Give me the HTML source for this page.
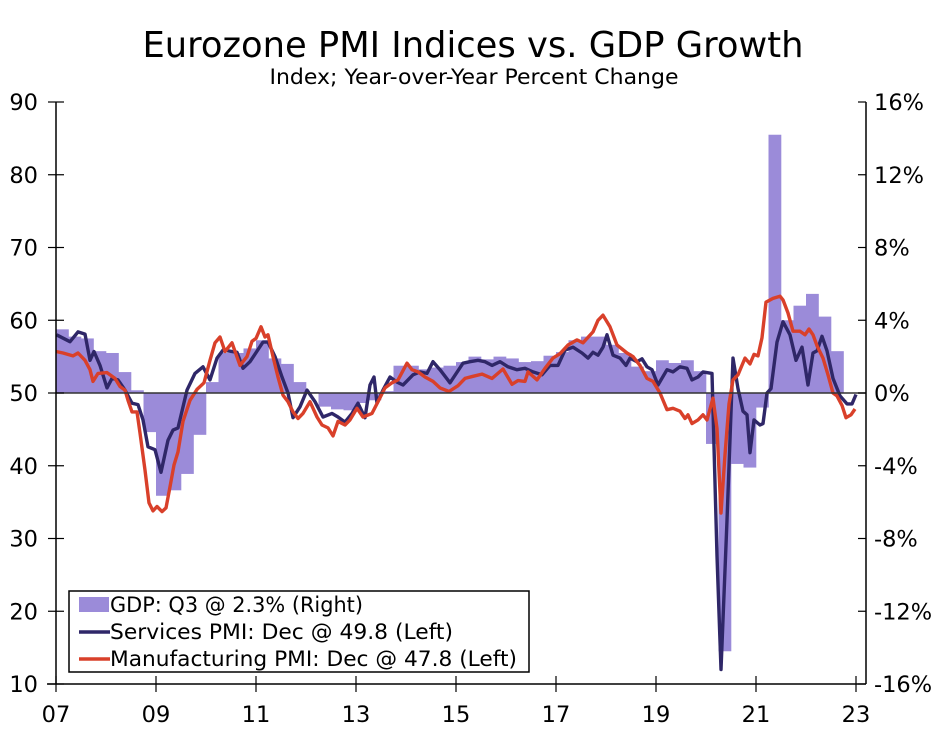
<!DOCTYPE html>
<html><head><meta charset="utf-8"><style>
body{margin:0;background:#fff;}
svg text{font-family:"DejaVu Sans","Liberation Sans",sans-serif;fill:#000;}
</style></head><body>
<svg id="chart" width="947" height="726" viewBox="0 0 947 726" xmlns="http://www.w3.org/2000/svg">
<text x="473" y="57" font-size="35.5" text-anchor="middle" textLength="661" lengthAdjust="spacingAndGlyphs">Eurozone PMI Indices vs. GDP Growth</text>
<text x="474" y="84" font-size="21" text-anchor="middle" textLength="409" lengthAdjust="spacingAndGlyphs">Index; Year-over-Year Percent Change</text>
<g id="bars"></g>
<g id="lines"></g>
<g id="axes"></g>
<g>
<rect x="69" y="591" width="460" height="81" fill="#fff" stroke="#000" stroke-width="1.5"/>
<rect x="79" y="597" width="30" height="15" fill="#9b8bd9"/>
<text x="110" y="612" font-size="21.5" textLength="253" lengthAdjust="spacingAndGlyphs">GDP: Q3 @ 2.3% (Right)</text>
<line x1="79" y1="632" x2="110" y2="632" stroke="#2f2768" stroke-width="3.5"/>
<text x="110" y="639" font-size="21.5" textLength="343" lengthAdjust="spacingAndGlyphs">Services PMI: Dec @ 49.8 (Left)</text>
<line x1="79" y1="659" x2="110" y2="659" stroke="#d9402a" stroke-width="3.5"/>
<text x="110" y="666" font-size="21.5" textLength="407" lengthAdjust="spacingAndGlyphs">Manufacturing PMI: Dec @ 47.8 (Left)</text>
</g>
</svg>
<script>
const gdpQuarters=["07Q1","07Q2","07Q3","07Q4","08Q1","08Q2","08Q3","08Q4","09Q1","09Q2","09Q3","09Q4","10Q1","10Q2","10Q3","10Q4","11Q1","11Q2","11Q3","11Q4","12Q1","12Q2","12Q3","12Q4","13Q1","13Q2","13Q3","13Q4","14Q1","14Q2","14Q3","14Q4","15Q1","15Q2","15Q3","15Q4","16Q1","16Q2","16Q3","16Q4","17Q1","17Q2","17Q3","17Q4","18Q1","18Q2","18Q3","18Q4","19Q1","19Q2","19Q3","19Q4","20Q1","20Q2","20Q3","20Q4","21Q1","21Q2","21Q3","21Q4","22Q1","22Q2","22Q3"];
const gdpValues=[3.5,3.1,3.0,2.3,2.2,1.15,0.15,-2.15,-5.65,-5.35,-4.45,-2.3,0.6,2.2,2.2,2.45,2.9,1.9,1.6,0.6,0.05,-0.75,-0.9,-0.95,-0.55,-0.4,0.1,1.5,1.5,1.3,1.4,1.5,1.7,2.0,1.85,2.0,1.9,1.7,1.75,2.05,2.25,2.9,3.1,3.1,2.65,2.2,1.45,1.2,1.8,1.65,1.8,1.2,-2.8,-14.2,-3.9,-4.1,-0.8,14.2,4.0,4.8,5.45,4.2,2.3];
const svcDates=[2007.01,2007.28,2007.44,2007.58,2007.68,2007.76,2007.88,2008.02,2008.12,2008.24,2008.38,2008.52,2008.64,2008.74,2008.84,2008.98,2009.10,2009.24,2009.34,2009.44,2009.62,2009.78,2009.94,2010.08,2010.22,2010.34,2010.62,2010.74,2010.88,2011.14,2011.24,2011.38,2011.52,2011.64,2011.74,2011.88,2012.02,2012.18,2012.34,2012.52,2012.64,2012.78,2012.92,2013.04,2013.18,2013.28,2013.36,2013.42,2013.54,2013.68,2013.82,2013.94,2014.14,2014.28,2014.42,2014.54,2014.68,2014.88,2015.14,2015.28,2015.44,2015.58,2015.72,2015.88,2016.04,2016.22,2016.38,2016.54,2016.72,2016.88,2017.04,2017.18,2017.34,2017.52,2017.64,2017.74,2017.84,2017.94,2018.02,2018.14,2018.28,2018.40,2018.48,2018.62,2018.72,2018.82,2018.92,2019.04,2019.22,2019.34,2019.48,2019.62,2019.72,2019.84,2019.94,2020.12,2020.22,2020.30,2020.42,2020.54,2020.64,2020.74,2020.82,2020.88,2020.96,2021.08,2021.14,2021.22,2021.30,2021.42,2021.54,2021.68,2021.80,2021.92,2022.04,2022.14,2022.22,2022.32,2022.42,2022.54,2022.68,2022.82,2022.92,2023.00];
const svcValues=[58.0,57.05,58.4,58.1,54.5,55.7,53.8,50.7,52.0,51.8,50.4,48.6,48.4,46.3,42.6,42.2,39.1,43.5,44.9,45.2,50.4,52.7,53.6,51.8,54.8,55.9,55.6,53.4,54.3,57.0,57.0,55.0,52.2,50.0,46.6,48.1,50.4,48.8,46.7,47.2,46.7,46.0,47.2,48.6,46.6,51.1,52.2,48.6,50.4,52.2,51.5,51.1,52.5,52.9,52.7,54.3,53.2,51.4,54.1,54.3,54.5,54.3,53.8,54.3,53.6,53.2,53.4,52.9,52.5,53.8,53.8,55.9,56.3,55.5,54.8,55.6,55.2,56.3,58.0,55.2,54.8,53.8,54.8,54.3,54.7,53.6,53.2,51.1,53.2,52.9,53.6,53.4,51.8,52.2,52.9,52.7,27.6,12.0,32.5,54.8,50.6,47.5,47.0,41.8,46.3,45.6,45.8,50.0,50.6,57.0,59.8,58.0,54.5,56.3,51.1,55.5,55.8,57.8,55.8,52.0,49.6,48.5,48.5,49.8];
const mfgDates=[2007.00,2007.14,2007.34,2007.44,2007.58,2007.68,2007.74,2007.84,2008.02,2008.18,2008.28,2008.38,2008.44,2008.52,2008.62,2008.68,2008.78,2008.86,2008.94,2009.02,2009.12,2009.20,2009.28,2009.36,2009.44,2009.54,2009.68,2009.82,2009.96,2010.08,2010.18,2010.28,2010.38,2010.52,2010.68,2010.82,2010.92,2011.00,2011.10,2011.18,2011.24,2011.34,2011.44,2011.54,2011.64,2011.74,2011.84,2011.94,2012.08,2012.22,2012.32,2012.44,2012.54,2012.64,2012.78,2012.88,2013.02,2013.14,2013.32,2013.44,2013.58,2013.72,2013.84,2014.02,2014.12,2014.24,2014.38,2014.54,2014.68,2014.86,2015.04,2015.18,2015.34,2015.52,2015.72,2015.94,2016.12,2016.24,2016.38,2016.44,2016.62,2016.78,2016.94,2017.08,2017.24,2017.42,2017.54,2017.74,2017.84,2017.94,2018.08,2018.22,2018.42,2018.54,2018.68,2018.82,2018.94,2019.08,2019.22,2019.34,2019.48,2019.58,2019.64,2019.72,2019.84,2019.94,2020.02,2020.14,2020.22,2020.30,2020.38,2020.46,2020.54,2020.64,2020.78,2020.88,2020.96,2021.04,2021.12,2021.20,2021.34,2021.48,2021.54,2021.64,2021.74,2021.88,2021.98,2022.06,2022.14,2022.22,2022.34,2022.44,2022.54,2022.62,2022.72,2022.80,2022.90,2022.98];
const mfgValues=[55.7,55.5,55.1,55.5,54.5,53.2,51.6,52.7,52.8,52.0,50.9,50.4,49.0,47.4,47.4,44.5,39.4,34.9,33.8,34.4,33.7,34.2,37.1,40.1,41.9,46.1,49.0,50.5,51.4,54.5,56.9,57.7,55.7,56.9,53.8,55.0,57.1,57.5,59.1,57.7,58.0,55.0,52.2,49.7,48.8,47.4,46.5,47.2,48.8,46.7,45.6,45.2,44.1,46.1,45.6,46.3,47.9,46.7,47.2,48.8,50.7,51.4,51.8,54.1,53.2,52.9,52.2,51.6,50.7,50.2,51.0,52.0,52.3,52.6,52.0,53.3,51.2,51.7,51.6,52.9,51.8,53.4,54.8,55.4,56.6,57.3,56.9,58.4,60.0,60.7,59.1,56.6,55.5,55.0,53.8,52.0,51.6,50.0,47.7,47.9,47.5,46.5,47.0,45.8,46.3,47.0,46.3,49.3,45.1,33.5,41.5,48.5,51.8,52.5,54.8,54.0,55.3,55.1,57.6,62.5,63.0,63.3,62.8,61.0,58.5,58.5,58.0,58.8,58.0,56.5,54.8,52.5,50.0,49.6,48.3,46.6,47.0,47.8];
const leftTicks=[10,20,30,40,50,60,70,80,90];
const rightTicks=[-16,-12,-8,-4,0,4,8,12,16];
const xTickLabels=["07","09","11","13","15","17","19","21","23"];
const xTickYears=[2007,2009,2011,2013,2015,2017,2019,2021,2023];

const NS="http://www.w3.org/2000/svg";
const X0=56,X1=866,YT=102,YB=684;
function xScale(t){return X0+(t-2007)*50;}
function yLeft(v){return YB-(v-10)*(YB-YT)/80;}
function yRight(p){return YB-(p+16)*(YB-YT)/32;}
function mk(tag,attrs,parent){const e=document.createElementNS(NS,tag);for(const k in attrs)e.setAttribute(k,attrs[k]);parent.appendChild(e);return e;}

const bars=document.getElementById('bars');
gdpValues.forEach((v,i)=>{
  const t=2007+i*0.25;
  const xa=xScale(t),xb=xScale(t+0.25);
  const y0=yRight(0),y1=yRight(v);
  const r=mk('rect',{x:xa,y:Math.min(y0,y1),width:xb-xa+0.3,height:Math.abs(y1-y0),fill:'#9b8bd9'},bars);
  
  
});

const axes=document.getElementById('axes');
const zl=mk('line',{x1:X0,x2:X1,y1:yLeft(50),y2:yLeft(50),stroke:'#333',"stroke-width":1.5},axes);



const lines=document.getElementById('lines');
function drawLine(dates,vals,color,name){
  const d=dates.map((t,i)=>(i?'L':'M')+xScale(t).toFixed(1)+' '+yLeft(vals[i]).toFixed(1)).join(' ');
  const p=mk('path',{d:d,fill:'none',stroke:color,"stroke-width":3.4,"stroke-linejoin":"round"},lines);
  
  
}
drawLine(svcDates,svcValues,'#2f2768','services-pmi-line');
drawLine(mfgDates,mfgValues,'#d9402a','manufacturing-pmi-line');

const la=mk('line',{x1:X0,x2:X0,y1:YT,y2:YB,stroke:'#000',"stroke-width":1.5},axes);


const ra=mk('line',{x1:X1,x2:X1,y1:YT,y2:YB,stroke:'#000',"stroke-width":1.5},axes);


const ba=mk('line',{x1:X0-9,x2:X1,y1:YB,y2:YB,stroke:'#000',"stroke-width":1.5},axes);



leftTicks.forEach(v=>{
  const y=yLeft(v);
  const tk=mk('line',{x1:X0-8,x2:X0+8,y1:y,y2:y,stroke:'#000',"stroke-width":1.2},axes);
  
  
  const tx=mk('text',{x:38,y:y+8,"font-size":22.5,"text-anchor":"end"},axes);
  tx.textContent=v;
  
  
});
rightTicks.forEach(p=>{
  const y=yRight(p);
  const tk=mk('line',{x1:X1-8,x2:X1,y1:y,y2:y,stroke:'#000',"stroke-width":1.2},axes);
  
  
  const tx=mk('text',{x:X1+8,y:y+8,"font-size":22.5},axes);
  tx.textContent=p+'%';
  
  
});
xTickYears.forEach((yr,i)=>{
  const x=xScale(yr);
  const tk=mk('line',{x1:x,x2:x,y1:YB-8,y2:YB+8,stroke:'#000',"stroke-width":1.2},axes);
  
  
  const tx=mk('text',{x:x,y:YB+38,"font-size":22.5,"text-anchor":"middle"},axes);
  tx.textContent=xTickLabels[i];
  
  
});
</script>
</body></html>
